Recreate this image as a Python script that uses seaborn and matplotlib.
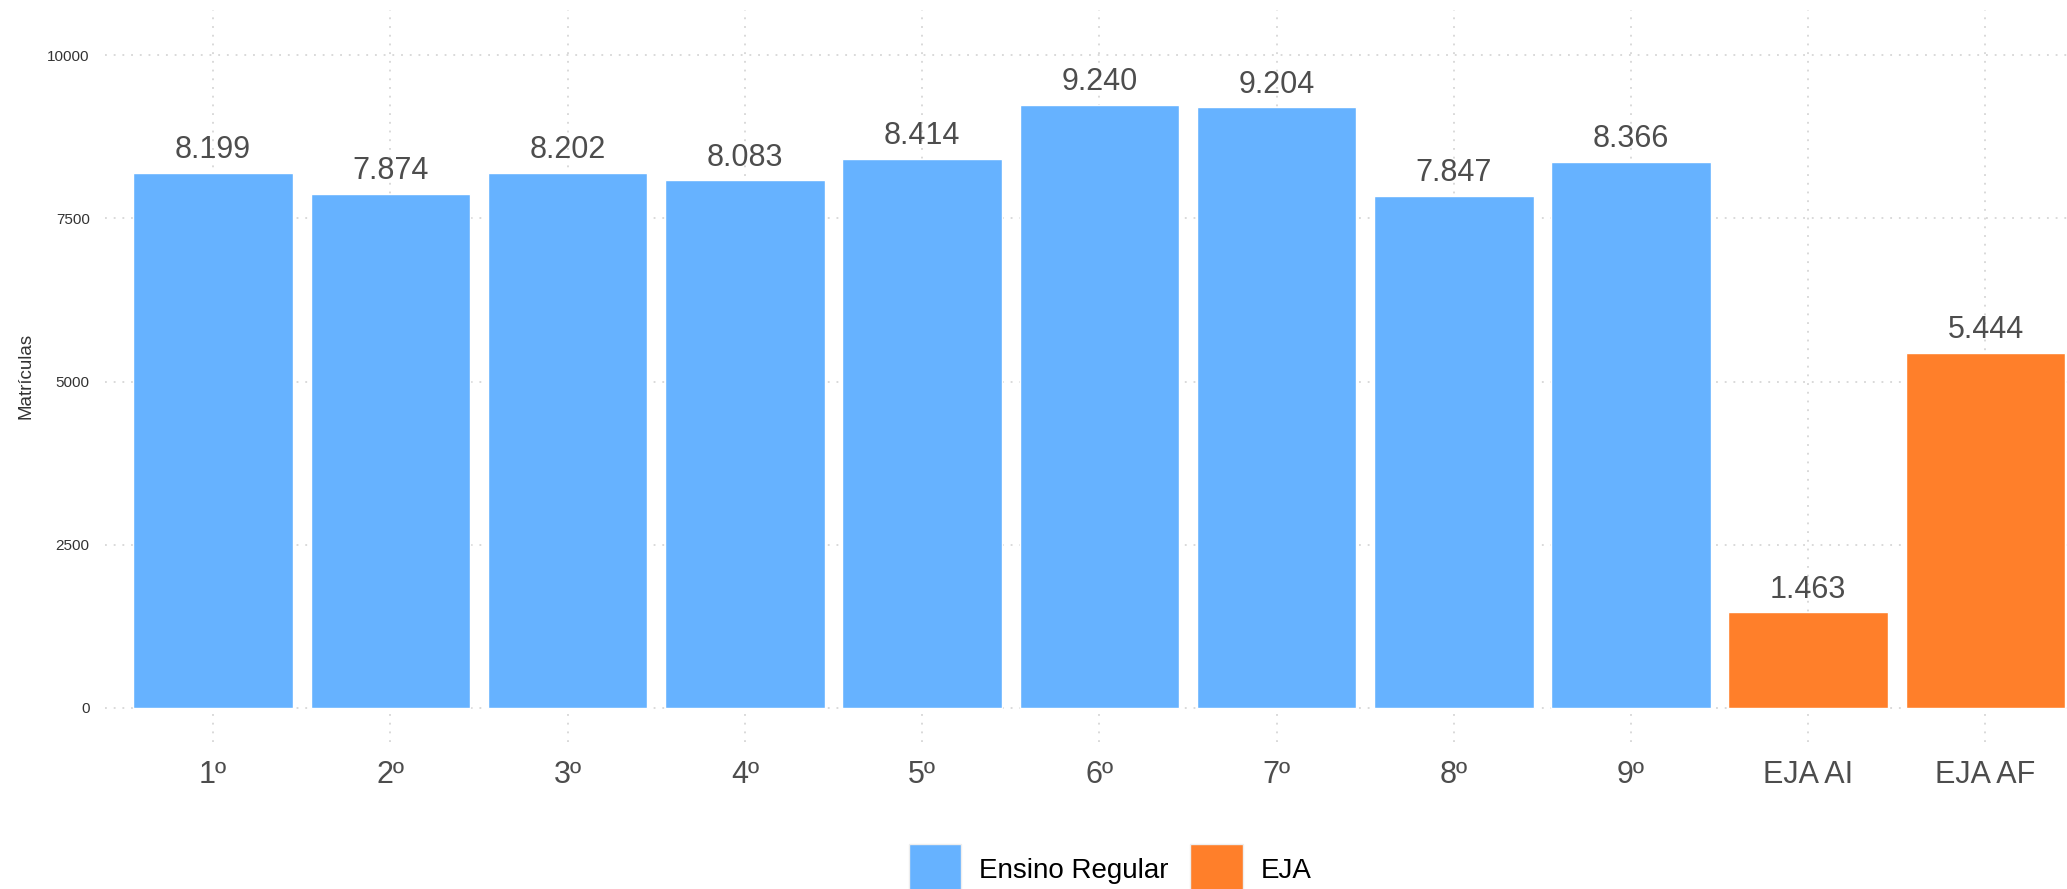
import matplotlib
matplotlib.use("Agg")
import matplotlib.pyplot as plt
import seaborn as sns
import pandas as pd
from matplotlib.patches import Patch

categorias = ["1º", "2º", "3º", "4º", "5º", "6º", "7º", "8º", "9º", "EJA AI", "EJA AF"]
matriculas = [8199, 7874, 8202, 8083, 8414, 9240, 9204, 7847, 8366, 1463, 5444]
grupos = ["Ensino Regular"] * 9 + ["EJA"] * 2
cores = {"Ensino Regular": "#66B2FF", "EJA": "#FF7F2A"}
yticks = [0, 2500, 5000, 7500, 10000]

df = pd.DataFrame({"Etapa": categorias, "Matrículas": matriculas, "Grupo": grupos})

sns.set_theme(style="white")
plt.rcParams["font.family"] = ["Liberation Sans", "DejaVu Sans"]

fig = plt.figure(figsize=(20.67, 8.89), dpi=100)
ax = fig.add_axes([0.0508, 0.1654, 0.9492, 0.8228])

grid_kw = dict(color="#CFCFCF", linestyle=(0, (1.2, 4.5)), linewidth=1.1, zorder=0)
ax.set_axisbelow(True)

sns.barplot(data=df, x="Etapa", y="Matrículas", hue="Grupo", dodge=False,
            width=0.9, palette=cores, legend=False, ax=ax, saturation=1,
            order=categorias, hue_order=["Ensino Regular", "EJA"], zorder=2)

for i, v in enumerate(matriculas):
    lab = f"{v:,}".replace(",", ".")
    ax.annotate(lab, (i, v), xytext=(0, 10.5), textcoords="offset points",
                ha="center", va="baseline", fontsize=22, color="#4D4D4D")

ax.set_xlim(-0.61, 10.46)
ax.set_ylim(-524, 10688)
ax.set_yticks(yticks)
ax.set_yticklabels([str(t) for t in yticks])
ax.grid(True, axis="both", **grid_kw)
for s in ax.spines.values():
    s.set_visible(False)
ax.tick_params(axis="y", length=0, pad=11, labelsize=11, labelcolor="#333333")
ax.tick_params(axis="x", length=0, pad=13, labelsize=22, labelcolor="#4D4D4D")
ax.set_xlabel("")
ax.set_ylabel("Matrículas", fontsize=13.5, color="#333333", labelpad=9)

handles = [Patch(facecolor=cores[g], edgecolor="#EEEEEE", linewidth=1) for g in ["Ensino Regular", "EJA"]]
fig.legend(handles, ["Ensino Regular", "EJA"], loc="center",
           bbox_to_anchor=(1110 / 2067, 1 - 870 / 889), ncol=2, frameon=False,
           fontsize=20, handlelength=1.9, handleheight=2.5, handletextpad=0.65,
           columnspacing=0.75, borderpad=0, labelcolor="black")

fig.savefig("out.png", dpi=100)
